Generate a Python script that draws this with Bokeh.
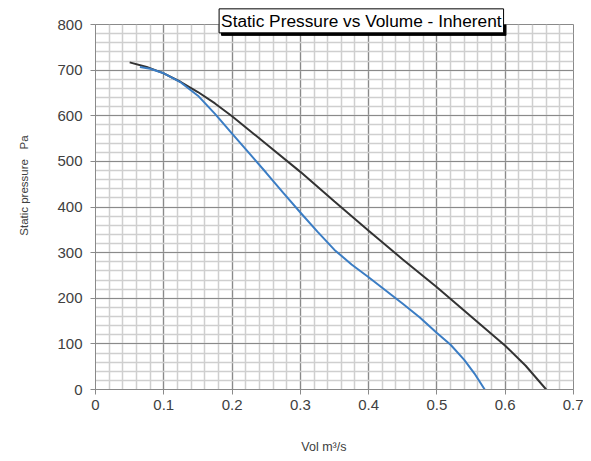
from bokeh.plotting import figure
from bokeh.models import Range1d, FixedTicker, Label
from bokeh.embed import file_html
from bokeh.resources import INLINE
import math

# ---- data ----
black_x = [0.05, 0.075, 0.10, 0.125, 0.15, 0.175, 0.20, 0.25, 0.30, 0.35, 0.40, 0.45, 0.50, 0.55, 0.60, 0.63, 0.66]
black_y = [717, 707, 693, 674, 652, 627, 599, 538, 477, 412, 348, 285, 224, 160, 96, 52, 0]

blue_x = [0.065, 0.08, 0.10, 0.125, 0.15, 0.175, 0.20, 0.225, 0.25, 0.275, 0.30, 0.325, 0.35, 0.375,
          0.40, 0.425, 0.45, 0.475, 0.50, 0.52, 0.54, 0.555, 0.57]
blue_y = [707, 703, 693, 673, 644, 604, 561, 518, 475, 431, 388, 346, 306, 274,
          246, 217, 188, 158, 124, 98, 65, 35, 0]

x_ticks = [0, 0.1, 0.2, 0.3, 0.4, 0.5, 0.6, 0.7]
x_tick_labels = ["0", "0.1", "0.2", "0.3", "0.4", "0.5", "0.6", "0.7"]
x_minor = [round(i * 0.02, 2) for i in range(36)]
y_ticks = [0, 100, 200, 300, 400, 500, 600, 700, 800]
y_minor = [i * 20 for i in range(41)]

title_text = "Static Pressure vs Volume - Inherent"
x_label_text = "Vol m\u00b3/s"
y_label_text = "Static pressure \u00a0\u00a0Pa"

FONT = "Liberation Sans"
TXT = "#404040"

p = figure(width=583, height=453, output_backend="svg", toolbar_location=None,
           x_range=Range1d(0, 0.7), y_range=Range1d(0, 800),
           min_border_left=95, min_border_right=10, min_border_top=23, min_border_bottom=64)
p.background_fill_color = "white"
p.border_fill_color = "white"
p.outline_line_color = "#8a8a8a"
p.outline_line_width = 1

p.xaxis.ticker = FixedTicker(ticks=x_ticks, minor_ticks=x_minor)
p.yaxis.ticker = FixedTicker(ticks=y_ticks, minor_ticks=y_minor)
p.xaxis.major_label_overrides = {t: l for t, l in zip(x_ticks, x_tick_labels)}
p.yaxis.major_label_overrides = {t: str(t) for t in y_ticks}

for ax in (p.xaxis[0], p.yaxis[0]):
    ax.axis_line_color = "#8a8a8a"
    ax.major_tick_line_color = "#8a8a8a"
    ax.major_tick_in = 0
    ax.major_tick_out = 5
    ax.minor_tick_line_color = None
    ax.major_label_text_font = FONT
    ax.major_label_text_font_size = "15px"
    ax.major_label_text_color = TXT
p.yaxis.major_label_standoff = 8
p.xaxis.major_label_standoff = 5

p.grid.grid_line_color = "#8a8a8a"
p.grid.grid_line_width = 1.2
p.grid.minor_grid_line_color = "#cfcfcf"
p.grid.minor_grid_line_width = 1.5
p.grid.level = "underlay"

p.line(black_x, black_y, line_color="#333333", line_width=2)
p.line(blue_x, blue_y, line_color="#3B7DC4", line_width=2)

# title box (side panel, not clipped) with its drop shadow (inside the frame)
TX, TY = 0.3893, 808.0
shadow = Label(x=TX + 0.0035, y=TY - 5.5, text=title_text, text_font=FONT, text_font_size="17.3px",
               text_color="black", text_align="center", text_baseline="middle", text_line_height=1.1,
               background_fill_color="black", border_line_color="black", padding=2, level="underlay")
title = Label(x=TX, y=TY, text=title_text, text_font=FONT, text_font_size="17.3px",
              text_color="black", text_align="center", text_baseline="middle", text_line_height=1.1,
              background_fill_color="white", border_line_color="black", border_line_width=1,
              padding=2, level="overlay")
p.add_layout(shadow)
p.add_layout(title, "above")

ylab = Label(x=-0.105, y=447, text=y_label_text, angle=math.pi / 2, text_font=FONT,
             text_font_size="11.5px", text_color=TXT, text_align="center", text_baseline="middle")
xlab = Label(x=0.3345, y=-126.5, text=x_label_text, text_font=FONT, text_font_size="12.5px",
             text_color=TXT, text_align="center", text_baseline="middle")
p.add_layout(ylab, "left")
p.add_layout(xlab, "below")

open("out.html", "w").write(file_html(p, INLINE))
